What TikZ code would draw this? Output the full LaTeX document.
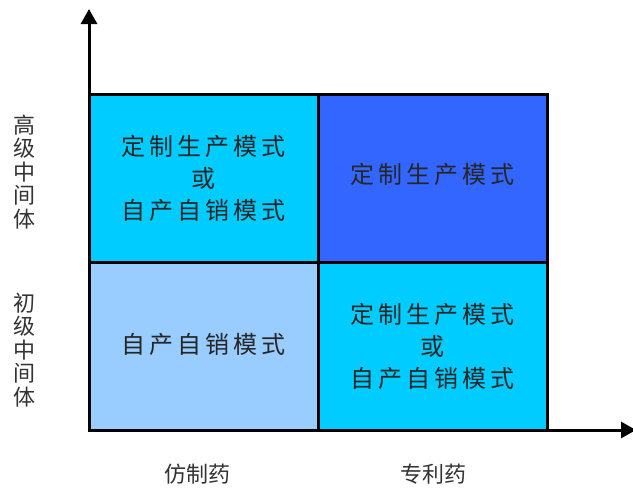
\documentclass[tikz,border=0pt]{standalone}
\usepackage{fontspec}
\newfontfamily\cjk[LetterSpace=16]{Noto Sans CJK SC}
\newfontfamily\cjklab{Noto Sans CJK SC}
\usetikzlibrary{arrows.meta}
\definecolor{cyancell}{HTML}{00CCFF}
\definecolor{bluecell}{HTML}{3366FF}
\definecolor{palecell}{HTML}{99CCFF}
\begin{document}
\begin{tikzpicture}[x=1pt,y=-1pt,
  cell/.style={draw=black,line width=3pt,minimum width=229pt,minimum height=168pt,
    inner sep=0pt,outer sep=0pt,anchor=north west,align=center,
    font=\cjk\fontsize{24}{32}\selectfont,text=black!85},
  axisline/.style={line width=3pt,-{Triangle[width=16pt,length=15pt]}},
  lab/.style={font=\cjklab\fontsize{22}{23.5}\selectfont,text=black!80,align=center,inner sep=0pt}]
\useasboundingbox (0,0) rectangle (633,488);
\coordinate (O) at (89,430);
\coordinate (ytip) at (89,9);
\coordinate (xtip) at (636,430);
\node[cell,fill=cyancell] (tl) at (89,94) {定制生产模式\\或\\自产自销模式};
\node[cell,fill=bluecell] (tr) at (318,94) {定制生产模式\rule[-10pt]{0pt}{0pt}};
\node[cell,fill=palecell] (bl) at (89,262) {自产自销模式\rule[-6pt]{0pt}{0pt}};
\node[cell,fill=cyancell] (br) at (318,262) {定制生产模式\\或\\自产自销模式};
\draw[axisline] (O) -- (ytip);
\draw[axisline] (O) -- (xtip);
\node[lab] (hi) at (24,172) {高\\级\\中\\间\\体};
\node[lab] (lo) at (24,350) {初\\级\\中\\间\\体};
\node[lab] (gen) at (197,474) {仿制药};
\node[lab] (pat) at (433,474) {专利药};
\end{tikzpicture}
\end{document}
